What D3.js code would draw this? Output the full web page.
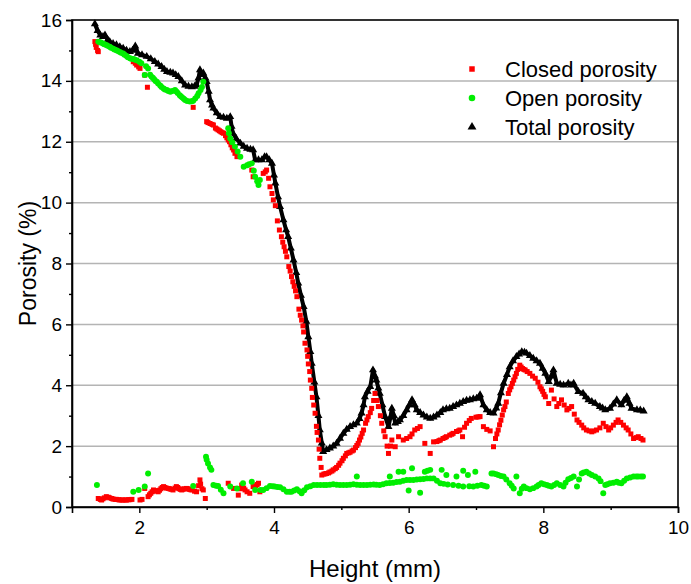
<!DOCTYPE html>
<html>
<head>
<meta charset="utf-8">
<script src="https://cdn.jsdelivr.net/npm/d3@7"></script>
<style>
  body { margin: 0; background: #fff; }
  svg { display: block; font-family: "Liberation Sans", Arial, sans-serif; }
</style>
</head>
<body>
<svg id="chart" width="691" height="584"></svg>
<script>
// [height (mm), porosity (%)]
const totalPorosity = [
  [1.34, 15.87], [1.38, 15.65], [1.42, 15.5], [1.46, 15.45], [1.49, 15.5], [1.53, 15.35],
  [1.56, 15.29], [1.61, 15.22], [1.66, 15.18], [1.71, 15.12], [1.76, 15.07], [1.81, 15.0],
  [1.86, 14.96], [1.90, 15.0], [1.94, 15.14], [1.98, 14.9], [2.04, 14.85], [2.11, 14.8],
  [2.17, 14.72], [2.23, 14.63], [2.28, 14.55], [2.33, 14.47], [2.37, 14.38], [2.41, 14.3],
  [2.46, 14.28], [2.50, 14.25], [2.54, 14.2], [2.58, 14.14], [2.63, 14.0], [2.68, 13.86],
  [2.73, 13.82], [2.78, 13.8], [2.82, 13.82], [2.85, 13.86], [2.88, 14.1], [2.90, 14.36],
  [2.93, 14.2], [2.95, 14.25], [2.98, 14.1], [3.0, 13.97], [3.03, 13.65], [3.05, 13.37],
  [3.08, 13.2], [3.1, 13.1], [3.15, 12.95], [3.2, 12.82], [3.25, 12.8], [3.3, 12.77],
  [3.35, 12.82], [3.37, 12.5], [3.39, 12.28], [3.44, 12.1], [3.5, 11.95], [3.55, 11.85],
  [3.6, 11.78], [3.65, 11.75], [3.69, 11.73], [3.72, 11.4], [3.77, 11.4], [3.82, 11.4],
  [3.86, 11.5], [3.89, 11.5], [3.93, 11.4], [3.97, 11.29], [4.0, 10.9], [4.02, 10.64],
  [4.06, 10.19], [4.09, 9.87], [4.14, 9.43], [4.18, 9.1], [4.21, 8.88], [4.25, 8.5],
  [4.29, 8.11], [4.33, 7.7], [4.36, 7.35], [4.40, 6.95], [4.44, 6.58], [4.48, 6.1],
  [4.51, 5.59], [4.54, 5.1], [4.56, 4.72], [4.6, 4.1], [4.63, 3.62], [4.66, 3.0],
  [4.68, 2.53], [4.71, 2.1], [4.73, 1.82], [4.78, 1.88], [4.83, 1.93], [4.88, 2.0],
  [4.93, 2.09], [4.98, 2.25], [5.03, 2.42], [5.08, 2.55], [5.13, 2.64], [5.18, 2.7],
  [5.23, 2.75], [5.27, 2.9], [5.30, 3.08], [5.33, 3.35], [5.35, 3.62], [5.39, 3.8],
  [5.43, 3.95], [5.47, 4.5], [5.50, 4.3], [5.52, 4.17], [5.55, 3.9], [5.57, 3.73],
  [5.61, 3.35], [5.65, 2.97], [5.70, 2.64], [5.73, 2.95], [5.75, 3.24], [5.78, 3.0],
  [5.80, 2.75], [5.84, 2.8], [5.87, 2.86], [5.92, 3.0], [5.97, 3.19], [6.01, 3.35],
  [6.05, 3.52], [6.09, 3.35], [6.12, 3.19], [6.17, 3.1], [6.22, 3.02], [6.27, 2.95],
  [6.32, 2.91], [6.37, 2.95], [6.42, 3.02], [6.47, 3.1], [6.51, 3.19], [6.56, 3.22],
  [6.61, 3.24], [6.66, 3.3], [6.71, 3.35], [6.76, 3.4], [6.81, 3.46], [6.86, 3.5],
  [6.91, 3.52], [6.96, 3.55], [7.01, 3.57], [7.06, 3.68], [7.11, 3.35], [7.16, 3.19],
  [7.21, 3.1], [7.26, 3.08], [7.30, 3.25], [7.33, 3.4], [7.37, 3.75], [7.41, 4.06],
  [7.46, 4.35], [7.50, 4.6], [7.55, 4.8], [7.60, 4.94], [7.64, 5.02], [7.68, 5.1],
  [7.72, 5.08], [7.75, 5.05], [7.80, 4.97], [7.85, 4.88], [7.90, 4.8], [7.95, 4.72],
  [7.99, 4.55], [8.03, 4.39], [8.08, 4.12], [8.12, 4.3], [8.15, 4.5], [8.2, 4.06],
  [8.25, 4.03], [8.3, 4.0], [8.37, 4.06], [8.41, 4.0], [8.45, 4.06], [8.52, 3.79],
  [8.59, 3.73], [8.63, 3.62], [8.67, 3.52], [8.72, 3.46], [8.77, 3.4], [8.84, 3.3],
  [8.88, 3.25], [8.92, 3.19], [8.99, 3.24], [9.04, 3.38], [9.09, 3.52], [9.16, 3.35],
  [9.2, 3.5], [9.24, 3.62], [9.28, 3.4], [9.31, 3.24], [9.39, 3.19], [9.44, 3.18],
  [9.49, 3.15]
];

const closedPorosity = [
  [1.34, 15.29], [1.35, 15.2], [1.36, 15.1], [1.38, 15.0], [1.39, 14.96], [1.39, 0.28],
  [1.42, 0.25], [1.44, 0.23], [1.46, 0.27], [1.48, 0.3], [1.51, 0.34], [1.54, 0.32],
  [1.56, 0.3], [1.59, 0.28], [1.61, 0.26], [1.64, 0.25], [1.66, 0.25], [1.69, 0.24],
  [1.71, 0.23], [1.74, 0.23], [1.76, 0.23], [1.79, 0.23], [1.81, 0.23], [1.84, 0.24],
  [1.86, 0.24], [1.89, 0.25], [1.91, 14.63], [1.94, 14.58], [1.96, 14.52], [1.99, 14.46],
  [2.01, 14.41], [2.01, 0.23], [2.04, 0.25], [2.08, 14.19], [2.08, 0.61], [2.12, 13.79],
  [2.13, 0.34], [2.15, 0.4], [2.17, 0.45], [2.19, 0.5], [2.21, 0.56], [2.23, 0.54],
  [2.25, 0.52], [2.28, 0.5], [2.30, 0.55], [2.32, 0.6], [2.34, 0.64], [2.36, 0.67],
  [2.38, 0.64], [2.40, 0.62], [2.43, 0.61], [2.45, 0.6], [2.47, 0.58], [2.5, 0.56],
  [2.53, 0.62], [2.55, 0.67], [2.57, 0.64], [2.59, 0.6], [2.61, 0.58], [2.63, 0.56],
  [2.65, 0.58], [2.67, 0.6], [2.7, 0.61], [2.72, 0.6], [2.74, 0.58], [2.76, 0.57],
  [2.78, 0.56], [2.80, 13.13], [2.82, 0.52], [2.85, 0.5], [2.88, 0.7], [2.9, 0.89],
  [2.91, 0.75], [2.93, 0.6], [2.95, 0.56], [2.98, 0.28], [3.0, 12.66], [3.02, 12.63],
  [3.05, 12.6], [3.08, 12.57], [3.1, 12.55], [3.13, 12.45], [3.15, 12.42], [3.17, 12.39],
  [3.19, 12.36], [3.21, 12.33], [3.23, 12.3], [3.25, 12.28], [3.28, 12.2], [3.30, 12.13],
  [3.32, 12.06], [3.32, 0.78], [3.34, 12.0], [3.36, 11.9], [3.38, 11.8], [3.4, 11.73],
  [3.4, 0.61], [3.42, 11.62], [3.45, 11.51], [3.47, 0.39], [3.5, 0.6], [3.52, 0.72],
  [3.55, 0.62], [3.57, 0.56], [3.6, 0.5], [3.64, 0.45], [3.67, 11.07], [3.69, 10.85],
  [3.69, 0.67], [3.71, 0.68], [3.73, 0.7], [3.75, 0.74], [3.77, 0.78], [3.79, 0.5],
  [3.84, 10.96], [3.87, 11.01], [3.89, 11.07], [3.92, 10.8], [3.94, 10.52], [3.97, 10.3],
  [3.99, 10.09], [4.02, 9.9], [4.05, 9.4], [4.08, 9.1], [4.11, 8.88], [4.13, 8.7],
  [4.15, 8.55], [4.17, 8.4], [4.19, 8.22], [4.22, 7.9], [4.24, 7.75], [4.26, 7.57],
  [4.28, 7.4], [4.30, 7.25], [4.32, 7.1], [4.34, 6.91], [4.37, 6.5], [4.39, 6.3],
  [4.41, 6.14], [4.43, 5.95], [4.44, 5.75], [4.46, 5.38], [4.49, 5.16], [4.50, 4.95],
  [4.51, 4.7], [4.53, 4.45], [4.54, 4.17], [4.56, 3.9], [4.57, 3.6], [4.59, 3.35],
  [4.61, 3.08], [4.63, 2.65], [4.64, 2.45], [4.66, 2.2], [4.67, 1.9], [4.68, 1.6],
  [4.70, 1.3], [4.71, 1.05], [4.74, 1.08], [4.76, 1.09], [4.78, 1.1], [4.81, 1.12],
  [4.83, 1.15], [4.86, 1.18], [4.88, 1.22], [4.91, 1.26], [4.93, 1.3], [4.96, 1.37],
  [4.98, 1.44], [5.01, 1.52], [5.03, 1.6], [5.06, 1.68], [5.08, 1.76], [5.11, 1.78],
  [5.13, 1.8], [5.16, 1.84], [5.18, 1.87], [5.21, 1.95], [5.23, 2.02], [5.25, 2.09],
  [5.27, 2.2], [5.29, 2.3], [5.31, 2.42], [5.33, 2.53], [5.36, 2.75], [5.38, 2.86],
  [5.4, 2.97], [5.43, 3.1], [5.45, 3.24], [5.48, 3.5], [5.5, 3.73], [5.53, 3.5],
  [5.55, 3.3], [5.58, 3.0], [5.6, 2.75], [5.63, 2.5], [5.65, 2.31], [5.68, 2.0],
  [5.7, 1.76], [5.73, 2.0], [5.75, 2.2], [5.8, 1.98], [5.85, 2.31], [5.92, 2.2],
  [5.97, 2.25], [6.02, 2.31], [6.05, 2.4], [6.09, 2.53], [6.13, 2.58], [6.17, 2.64],
  [6.24, 2.09], [6.32, 1.76], [6.37, 2.14], [6.42, 2.15], [6.45, 2.18], [6.47, 2.2],
  [6.51, 2.25], [6.54, 2.28], [6.56, 2.31], [6.61, 2.36], [6.64, 2.39], [6.66, 2.42],
  [6.71, 2.48], [6.74, 2.5], [6.76, 2.53], [6.8, 2.31], [6.83, 2.62], [6.86, 2.75],
  [6.9, 2.84], [6.93, 2.91], [7.0, 2.95], [7.03, 2.96], [7.06, 2.97], [7.11, 2.64],
  [7.16, 2.55], [7.21, 2.5], [7.26, 1.98], [7.29, 2.25], [7.31, 2.4], [7.33, 2.53],
  [7.35, 2.7], [7.37, 2.85], [7.39, 3.02], [7.41, 3.19], [7.43, 3.3], [7.45, 3.45],
  [7.48, 3.73], [7.5, 3.85], [7.52, 3.95], [7.54, 4.06], [7.56, 4.17], [7.58, 4.28],
  [7.6, 4.39], [7.62, 4.52], [7.65, 4.66], [7.67, 4.6], [7.69, 4.55], [7.71, 4.52],
  [7.73, 4.5], [7.76, 4.45], [7.8, 4.39], [7.84, 4.3], [7.88, 4.23], [7.92, 4.1],
  [7.95, 3.95], [7.97, 3.88], [7.99, 3.8], [8.01, 3.7], [8.03, 3.62], [8.08, 3.4],
  [8.12, 3.84], [8.16, 3.55], [8.2, 3.3], [8.23, 3.4], [8.27, 3.52], [8.31, 3.35],
  [8.35, 3.19], [8.38, 3.24], [8.42, 3.3], [8.46, 3.05], [8.5, 2.86], [8.53, 2.78],
  [8.57, 2.69], [8.6, 2.6], [8.64, 2.53], [8.68, 2.5], [8.72, 2.47], [8.75, 2.5],
  [8.79, 2.53], [8.84, 2.6], [8.89, 2.75], [8.93, 2.64], [8.97, 2.53], [9.0, 2.6],
  [9.04, 2.69], [9.08, 2.78], [9.11, 2.86], [9.15, 2.78], [9.19, 2.69], [9.23, 2.6],
  [9.26, 2.53], [9.3, 2.4], [9.34, 2.25], [9.38, 2.28], [9.41, 2.31], [9.45, 2.25],
  [9.48, 2.2]
];

const openPorosity = [
  [1.37, 0.72], [1.39, 15.29], [1.41, 15.27], [1.43, 15.26], [1.46, 15.23], [1.48, 15.2],
  [1.51, 15.18], [1.53, 15.15], [1.56, 15.12], [1.58, 15.09], [1.61, 15.06], [1.63, 15.03],
  [1.66, 15.01], [1.68, 14.98], [1.71, 14.95], [1.73, 14.92], [1.76, 14.9], [1.78, 14.86],
  [1.81, 14.82], [1.83, 14.78], [1.86, 14.74], [1.88, 14.73], [1.91, 0.5], [1.91, 14.72],
  [1.93, 14.7], [1.96, 14.68], [1.99, 0.56], [2.0, 14.63], [2.03, 14.58], [2.08, 14.19],
  [2.08, 0.67], [2.10, 14.48], [2.13, 14.41], [2.13, 1.1], [2.16, 14.2], [2.18, 14.14],
  [2.2, 14.1], [2.22, 14.05], [2.24, 14.0], [2.26, 13.97], [2.28, 13.91], [2.31, 13.85],
  [2.33, 13.8], [2.36, 13.75], [2.38, 13.72], [2.41, 13.7], [2.43, 13.67], [2.46, 13.64],
  [2.49, 13.67], [2.53, 13.7], [2.55, 13.65], [2.57, 13.6], [2.6, 13.53], [2.62, 13.49],
  [2.64, 13.45], [2.66, 13.41], [2.68, 13.37], [2.71, 13.34], [2.75, 13.32], [2.8, 0.69],
  [2.78, 13.33], [2.8, 13.35], [2.83, 13.42], [2.86, 13.5], [2.88, 13.59], [2.91, 13.7],
  [2.93, 13.8], [2.95, 13.97], [2.99, 1.65], [3.0, 1.55], [3.02, 1.43], [3.05, 1.3],
  [3.07, 1.22], [3.1, 0.72], [3.14, 0.7], [3.17, 0.69], [3.21, 0.57], [3.25, 0.45],
  [3.32, 12.44], [3.33, 12.28], [3.35, 12.11], [3.35, 0.67], [3.38, 11.98], [3.42, 11.84],
  [3.45, 0.61], [3.46, 11.68], [3.5, 11.51], [3.54, 0.78], [3.55, 11.18], [3.6, 11.23],
  [3.63, 11.26], [3.67, 11.29], [3.67, 0.83], [3.70, 11.05], [3.72, 10.85], [3.72, 0.56],
  [3.75, 10.7], [3.77, 10.58], [3.79, 10.74], [3.8, 0.56], [3.84, 0.56], [3.89, 0.62],
  [3.94, 0.69], [3.98, 0.68], [4.01, 0.67], [4.05, 0.66], [4.09, 0.65], [4.14, 0.58],
  [4.19, 0.5], [4.23, 0.5], [4.26, 0.5], [4.3, 0.54], [4.34, 0.58], [4.38, 0.52],
  [4.41, 0.45], [4.45, 0.55], [4.49, 0.65], [4.54, 0.68], [4.59, 0.72], [4.64, 0.72],
  [4.69, 0.72], [4.74, 0.72], [4.78, 0.72], [4.83, 0.73], [4.88, 0.75], [4.93, 0.73],
  [4.98, 0.72], [5.03, 0.72], [5.08, 0.72], [5.13, 0.73], [5.18, 0.75], [5.23, 1.0],
  [5.23, 0.73], [5.28, 0.72], [5.33, 0.72], [5.38, 0.72], [5.43, 0.73], [5.48, 0.74],
  [5.52, 0.73], [5.57, 0.72], [5.62, 0.75], [5.67, 0.78], [5.72, 1.0], [5.72, 0.79],
  [5.77, 0.8], [5.82, 0.82], [5.85, 1.16], [5.87, 0.83], [5.92, 1.16], [5.92, 0.86],
  [5.97, 0.89], [6.0, 0.54], [6.02, 0.89], [6.05, 1.27], [6.07, 0.89], [6.12, 0.9],
  [6.17, 0.47], [6.17, 0.91], [6.22, 0.92], [6.24, 1.16], [6.27, 0.94], [6.28, 1.19],
  [6.32, 1.22], [6.32, 0.94], [6.37, 0.94], [6.42, 0.86], [6.47, 0.78], [6.49, 1.22],
  [6.52, 0.76], [6.56, 1.05], [6.58, 0.74], [6.66, 0.72], [6.71, 1.0], [6.74, 0.7],
  [6.81, 1.19], [6.81, 0.67], [6.88, 1.05], [6.9, 0.68], [6.96, 0.67], [6.99, 1.16],
  [7.02, 0.7], [7.08, 0.72], [7.12, 0.7], [7.16, 0.67], [7.23, 1.1], [7.26, 1.1],
  [7.3, 1.08], [7.33, 1.05], [7.37, 1.02], [7.41, 1.0], [7.45, 0.9], [7.5, 0.78],
  [7.53, 0.7], [7.56, 0.61], [7.6, 1.0], [7.65, 0.45], [7.68, 0.6], [7.71, 0.67],
  [7.75, 0.62], [7.8, 0.58], [7.85, 0.62], [7.9, 0.67], [7.93, 0.72], [7.97, 0.78],
  [8.01, 0.75], [8.05, 0.72], [8.08, 0.7], [8.12, 0.67], [8.16, 0.72], [8.2, 0.78],
  [8.25, 0.72], [8.3, 0.67], [8.33, 0.8], [8.37, 0.91], [8.41, 0.95], [8.45, 1.0],
  [8.5, 0.67], [8.53, 0.9], [8.57, 1.1], [8.6, 1.13], [8.64, 1.16], [8.68, 1.1],
  [8.72, 1.05], [8.77, 1.0], [8.82, 0.94], [8.85, 0.85], [8.89, 0.45], [8.92, 0.72],
  [8.95, 0.75], [8.99, 0.78], [9.04, 0.8], [9.09, 0.83], [9.12, 0.8], [9.16, 0.78],
  [9.2, 0.86], [9.24, 0.94], [9.29, 0.97], [9.34, 1.0], [9.38, 1.0], [9.41, 1.0],
  [9.45, 1.0], [9.48, 1.0]
];

const xTicks = [2, 4, 6, 8, 10];
const xMinorTicks = [3, 5, 7, 9];
const yTicks = [0, 2, 4, 6, 8, 10, 12, 14, 16];
const yMinorTicks = [1, 3, 5, 7, 9, 11, 13, 15];
const gridValues = [2, 4, 6, 8, 10, 12, 14];

const legendItems = [
  { label: "Closed porosity", color: "#ff0000", symbol: d3.symbolSquare, size: 30 },
  { label: "Open porosity", color: "#00ee00", symbol: d3.symbolCircle, size: 34 },
  { label: "Total porosity", color: "#000000", symbol: d3.symbolTriangle, size: 34 },
];

const svg = d3.select("#chart");
const m = { left: 72, right: 13, top: 20, bottom: 77 };
const w = 691, h = 584;

const x = d3.scaleLinear().domain([1, 10]).range([m.left, w - m.right]);
const y = d3.scaleLinear().domain([0, 16]).range([h - m.bottom, m.top]);

// grid
svg.append("g")
  .selectAll("line")
  .data(gridValues)
  .join("line")
  .attr("x1", m.left)
  .attr("x2", w - m.right)
  .attr("y1", d => y(d))
  .attr("y2", d => y(d))
  .attr("stroke", "#b4b4b4")
  .attr("stroke-width", 1.5);

// frame
svg.append("rect")
  .attr("x", m.left)
  .attr("y", m.top)
  .attr("width", w - m.left - m.right)
  .attr("height", h - m.top - m.bottom)
  .attr("fill", "none")
  .attr("stroke", "#000")
  .attr("stroke-width", 1.6);

// axes
const xAxis = svg.append("g")
  .attr("transform", `translate(0,${h - m.bottom})`)
  .call(d3.axisBottom(x).tickValues(xTicks).tickSize(6).tickPadding(8).tickFormat(d3.format("d")));
svg.append("g")
  .attr("transform", `translate(0,${h - m.bottom})`)
  .call(d3.axisBottom(x).tickValues(xMinorTicks).tickSize(3).tickFormat(""))
  .call(g => g.select(".domain").remove());

const yAxis = svg.append("g")
  .attr("transform", `translate(${m.left},0)`)
  .call(d3.axisLeft(y).tickValues(yTicks).tickSize(6).tickPadding(4).tickFormat(d3.format("d")));
svg.append("g")
  .attr("transform", `translate(${m.left},0)`)
  .call(d3.axisLeft(y).tickValues(yMinorTicks).tickSize(3).tickFormat(""))
  .call(g => g.select(".domain").remove());

svg.selectAll(".domain").attr("stroke-width", 1.6);
svg.selectAll(".tick line").attr("stroke-width", 1.4);
[xAxis, yAxis].forEach(a => a.selectAll("text")
  .attr("font-size", 19)
  .attr("font-family", "Liberation Sans, Arial, sans-serif")
  .attr("fill", "#000"));

// series
const plot = svg.append("g");

const totalLine = d3.line().x(d => x(d[0])).y(d => y(d[1]));
plot.append("path")
  .datum(totalPorosity)
  .attr("fill", "none")
  .attr("stroke", "#000")
  .attr("stroke-width", 4)
  .attr("stroke-linejoin", "round")
  .attr("d", totalLine);

function drawSeries(data, item) {
  const sym = d3.symbol().type(item.symbol).size(item.size);
  plot.append("g")
    .selectAll("path")
    .data(data)
    .join("path")
    .attr("transform", d => `translate(${x(d[0])},${y(d[1])})`)
    .attr("d", sym)
    .attr("fill", item.color);
}

drawSeries(totalPorosity, { ...legendItems[2], size: 28 });
drawSeries(closedPorosity, { ...legendItems[0], size: 25 });
drawSeries(openPorosity, { ...legendItems[1], size: 28 });

// legend
const lg = svg.append("g").attr("transform", "translate(472,69)");
legendItems.forEach((item, i) => {
  const row = lg.append("g").attr("transform", `translate(0,${i * 29})`);
  row.append("path")
    .attr("d", d3.symbol().type(item.symbol).size(item.size)())
    .attr("fill", item.color);
  row.append("text")
    .attr("x", 33)
    .attr("y", 8)
    .attr("font-size", 22)
    .attr("fill", "#000")
    .text(item.label);
});

// axis titles
svg.append("text")
  .attr("x", (m.left + w - m.right) / 2)
  .attr("y", 577)
  .attr("text-anchor", "middle")
  .attr("font-size", 24)
  .text("Height (mm)");

svg.append("text")
  .attr("transform", `translate(36,${(m.top + h - m.bottom) / 2}) rotate(-90)`)
  .attr("text-anchor", "middle")
  .attr("font-size", 23)
  .text("Porosity (%)");
</script>
</body>
</html>
